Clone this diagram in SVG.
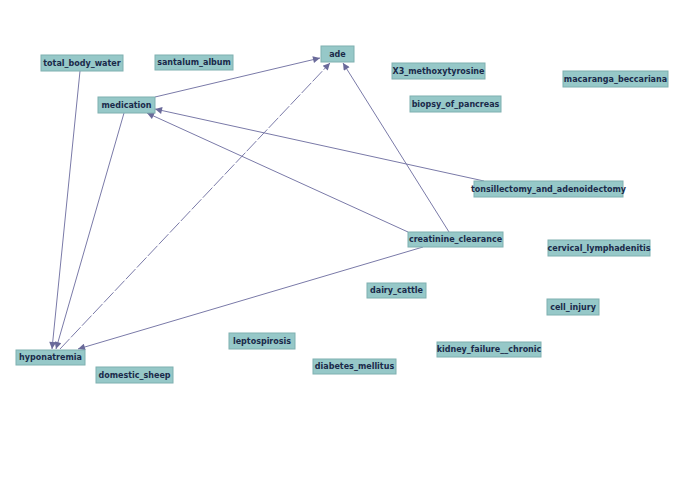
<svg xmlns="http://www.w3.org/2000/svg" width="695" height="494" viewBox="0 0 695 494">
<defs>
<marker id="a" viewBox="0 0 10 10" refX="10" refY="5" markerWidth="10" markerHeight="7" orient="auto" markerUnits="userSpaceOnUse"><path d="M0,0L10,5L0,10z" fill="#6a6a9a"/></marker>
<style>
.n rect{fill:#96c8c8;stroke:#7fb0b0;stroke-width:1}
.n text{font-family:"DejaVu Sans",sans-serif;font-size:8px;font-weight:bold;fill:#1a2a4a;text-anchor:middle;dominant-baseline:central}
.e line{stroke:#7a7aa8;stroke-width:1;marker-end:url(#a)}
</style>
</defs>
<rect width="695" height="494" fill="#fff"/>
<g id="edges" class="e">
<line x1="80" y1="71" x2="52" y2="349"/>
<line x1="124" y1="113" x2="56" y2="349"/>
<line x1="155" y1="97" x2="320" y2="58"/>
<line x1="60" y1="349" x2="330" y2="63" stroke-dasharray="14,2"/>
<line x1="423" y1="247" x2="78" y2="349"/>
<line x1="408" y1="232" x2="147" y2="113"/>
<line x1="484" y1="181" x2="155" y2="109"/>
<line x1="449" y1="232" x2="343" y2="63"/>
</g>
<g id="total_body_water" class="n"><rect x="41" y="55" width="82" height="16"/><text x="82" y="63">total_body_water</text></g>
<g id="santalum_album" class="n"><rect x="155" y="55" width="78" height="15"/><text x="194" y="62.5">santalum_album</text></g>
<g id="ade" class="n"><rect x="321" y="46" width="33" height="16"/><text x="337.5" y="54">ade</text></g>
<g id="X3_methoxytyrosine" class="n"><rect x="392" y="63" width="93" height="16"/><text x="438.5" y="71">X3_methoxytyrosine</text></g>
<g id="macaranga_beccariana" class="n"><rect x="563" y="71" width="105" height="16"/><text x="615.5" y="79">macaranga_beccariana</text></g>
<g id="medication" class="n"><rect x="98" y="97" width="57" height="16"/><text x="126.5" y="105">medication</text></g>
<g id="biopsy_of_pancreas" class="n"><rect x="410" y="96" width="91" height="16"/><text x="455.5" y="104">biopsy_of_pancreas</text></g>
<g id="tonsillectomy_and_adenoidectomy" class="n"><rect x="474" y="181" width="149" height="16"/><text x="548.5" y="189">tonsillectomy_and_adenoidectomy</text></g>
<g id="creatinine_clearance" class="n"><rect x="408" y="232" width="95" height="15"/><text x="455.5" y="239.5">creatinine_clearance</text></g>
<g id="cervical_lymphadenitis" class="n"><rect x="548" y="240" width="102" height="16"/><text x="599" y="248">cervical_lymphadenitis</text></g>
<g id="dairy_cattle" class="n"><rect x="367" y="283" width="59" height="15"/><text x="396.5" y="290.5">dairy_cattle</text></g>
<g id="cell_injury" class="n"><rect x="547" y="299" width="52" height="16"/><text x="573" y="307">cell_injury</text></g>
<g id="leptospirosis" class="n"><rect x="229" y="333" width="66" height="16"/><text x="262" y="341">leptospirosis</text></g>
<g id="kidney_failure__chronic" class="n"><rect x="437" y="342" width="104" height="15"/><text x="489" y="349.5">kidney_failure__chronic</text></g>
<g id="diabetes_mellitus" class="n"><rect x="313" y="359" width="83" height="15"/><text x="354.5" y="366.5">diabetes_mellitus</text></g>
<g id="hyponatremia" class="n"><rect x="16" y="350" width="69" height="15"/><text x="50.5" y="357.5">hyponatremia</text></g>
<g id="domestic_sheep" class="n"><rect x="96" y="367" width="77" height="16"/><text x="134.5" y="375">domestic_sheep</text></g>
</svg>
